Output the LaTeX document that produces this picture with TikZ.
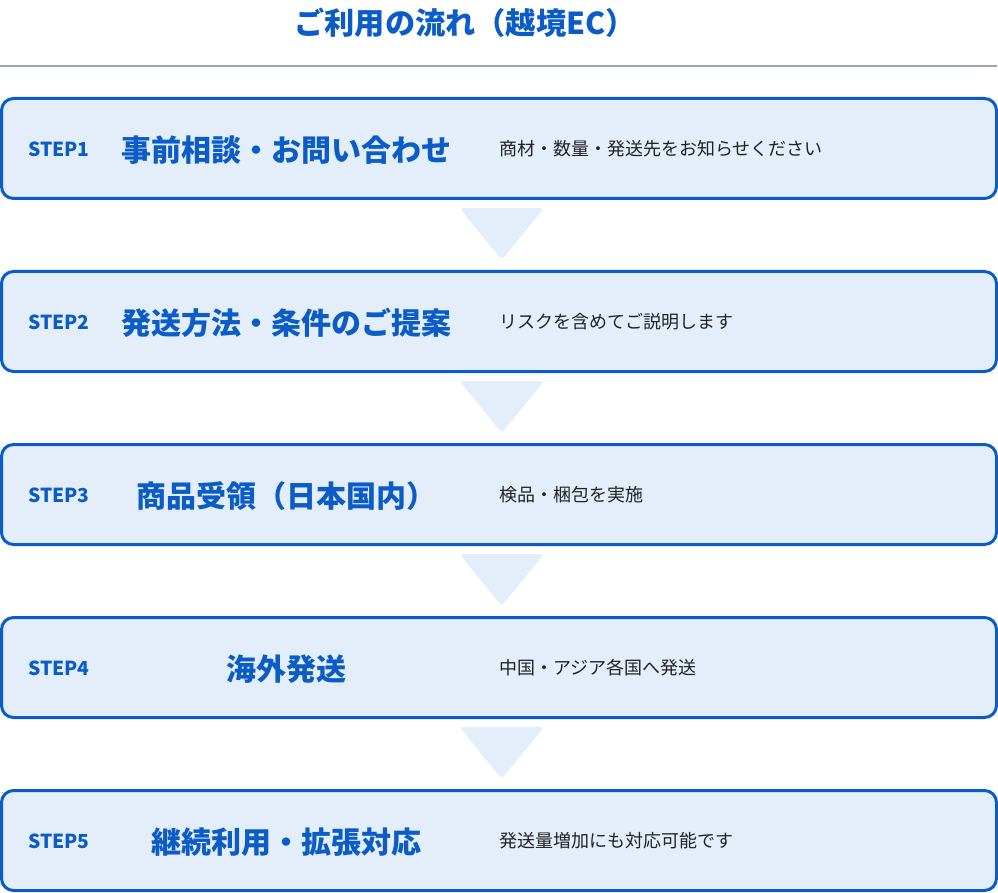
\documentclass[tikz,border=0pt]{standalone}
\usepackage{fontspec}
\setmainfont{Noto Sans CJK JP}
\usepackage{xcolor}
\definecolor{flowblue}{HTML}{0B5CC6}
\definecolor{flowfill}{HTML}{E3EEFA}
\definecolor{rulegray}{HTML}{9EA5AD}
\definecolor{desctext}{HTML}{222222}

\begin{document}
\begin{tikzpicture}[x=1pt, y=-1pt,
  stepbox/.style={draw=flowblue, fill=flowfill, line width=3pt, rounded corners=12pt, minimum width=995pt, minimum height=100pt, inner sep=0pt},
  steplabel/.style={anchor=west, inner sep=0pt, text=flowblue, font=\bfseries\fontsize{19.3}{21}\selectfont},
  stephead/.style={inner sep=0pt, text=flowblue, font=\bfseries\fontsize{30}{33}\selectfont},
  pagetitle/.style={inner sep=0pt, text=flowblue, font=\bfseries\fontsize{30.2}{33}\selectfont},
  stepdesc/.style={anchor=west, inner sep=0pt, text=desctext, font=\fontsize{18}{21}\selectfont},
  downtri/.style={fill=flowfill, rounded corners=4pt}]
\useasboundingbox (0,0) rectangle (998,893);
\node[pagetitle] (title) at (465,23) {ご利用の流れ（越境EC）};
\coordinate (rulel) at (0,66);
\coordinate (ruler) at (997,66);
\draw[rulegray, line width=2pt] (rulel) -- (ruler);

\node[stepbox] (box1) at (499,148.5) {};
\node[stepbox] (box2) at (499,321.5) {};
\node[stepbox] (box3) at (499,494.5) {};
\node[stepbox] (box4) at (499,667.5) {};
\node[stepbox] (box5) at (499,840.5) {};

\foreach \i in {0,1,2,3}
  \fill[downtri] (459.5,{208+173*\i}) -- (544,{208+173*\i}) -- (501.7,{260+173*\i}) -- cycle;

\node[steplabel] (lab1) at (28,149) {STEP1};
\node[stephead] (head1) at (286,150) {事前相談・お問い合わせ};
\node[stepdesc] (desc1) at (499,148.5) {商材・数量・発送先をお知らせください};

\node[steplabel] (lab2) at (28,322) {STEP2};
\node[stephead] (head2) at (286,323) {発送方法・条件のご提案};
\node[stepdesc] (desc2) at (499,321.5) {リスクを含めてご説明します};

\node[steplabel] (lab3) at (28,495) {STEP3};
\node[stephead] (head3) at (286,496) {商品受領（日本国内）};
\node[stepdesc] (desc3) at (499,494.5) {検品・梱包を実施};

\node[steplabel] (lab4) at (28,668) {STEP4};
\node[stephead] (head4) at (286,669) {海外発送};
\node[stepdesc] (desc4) at (499,667.5) {中国・アジア各国へ発送};

\node[steplabel] (lab5) at (28,841) {STEP5};
\node[stephead] (head5) at (286,842) {継続利用・拡張対応};
\node[stepdesc] (desc5) at (499,840.5) {発送量増加にも対応可能です};
\end{tikzpicture}
\end{document}
